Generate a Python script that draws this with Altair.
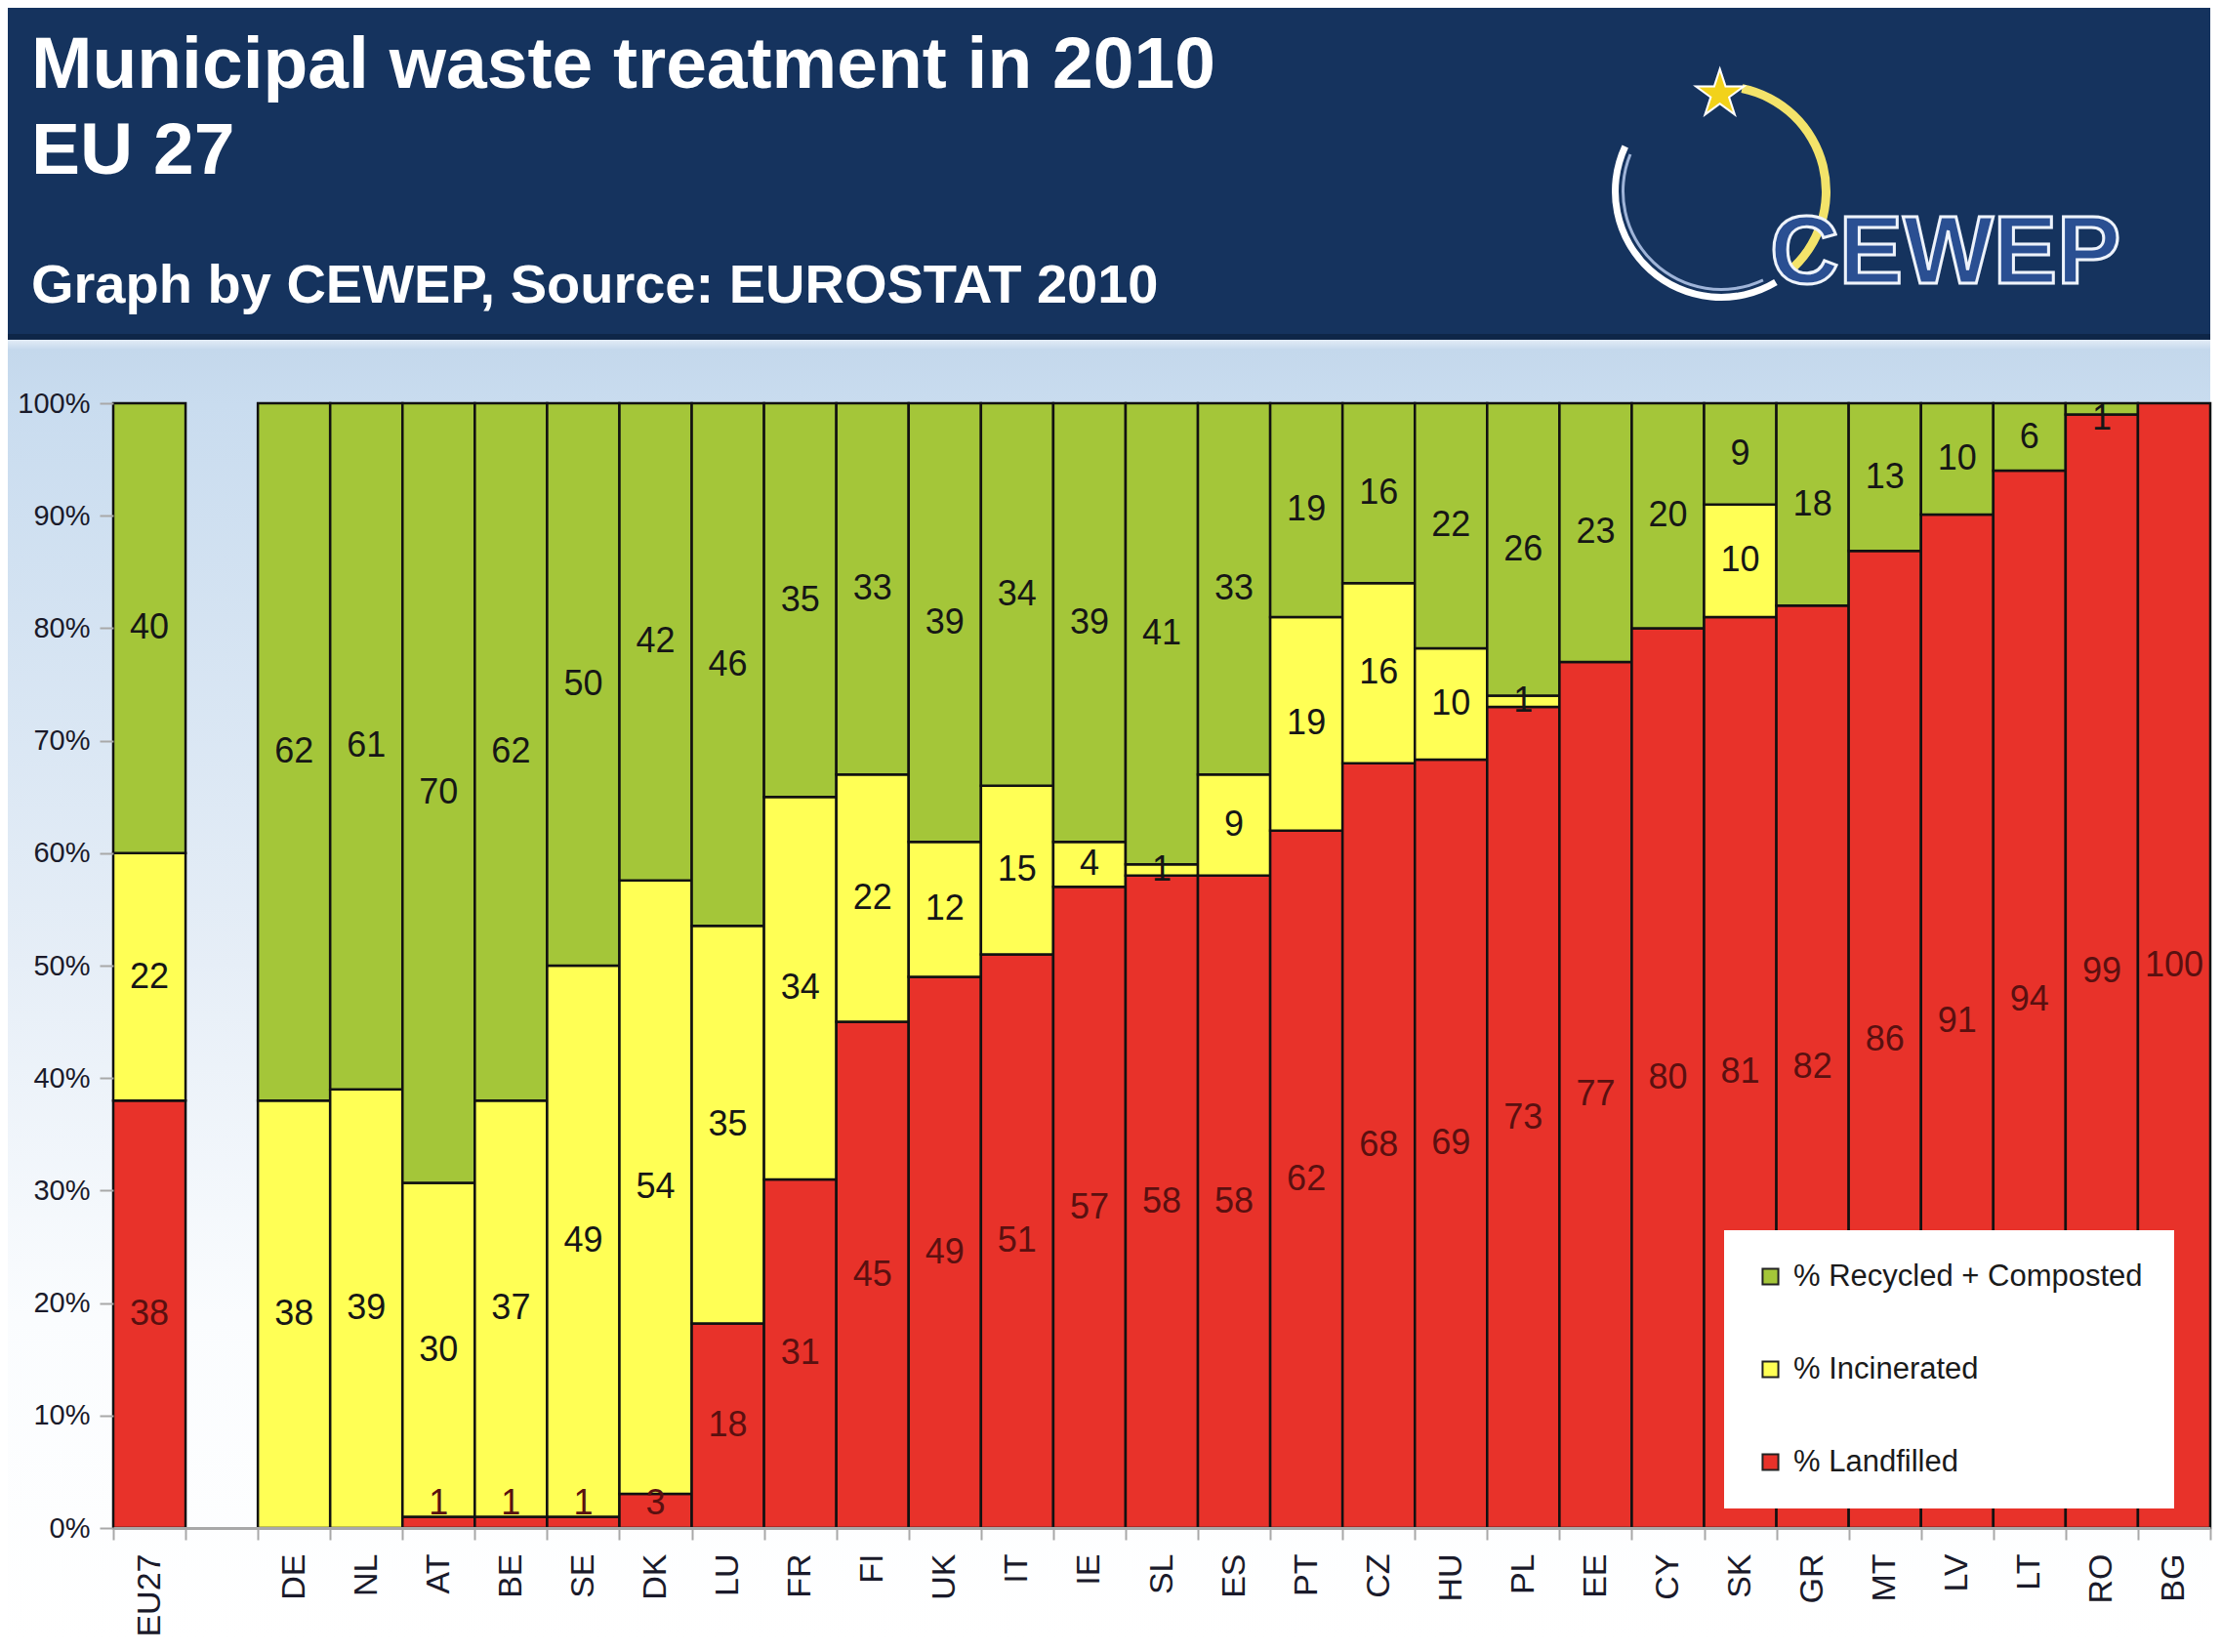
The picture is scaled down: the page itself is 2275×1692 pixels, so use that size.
import altair as alt
import pandas as pd

# ---------------- data ----------------
countries = ["EU27", "DE", "NL", "AT", "BE", "SE", "DK", "LU", "FR", "FI", "UK", "IT", "IE", "SL",
             "ES", "PT", "CZ", "HU", "PL", "EE", "CY", "SK", "GR", "MT", "LV", "LT", "RO", "BG"]
axis_order = ["EU27", " "] + countries[1:]   # " " is the empty slot after EU27
landfilled = [38, 0, 0, 1, 1, 1, 3, 18, 31, 45, 49, 51, 57, 58, 58, 62, 68, 69, 73, 77, 80, 81, 82, 86, 91, 94, 99, 100]
incinerated = [22, 38, 39, 30, 37, 49, 54, 35, 34, 22, 12, 15, 4, 1, 9, 19, 16, 10, 1, 0, 0, 10, 0, 0, 0, 0, 0, 0]
recycled = [40, 62, 61, 70, 62, 50, 42, 46, 35, 33, 39, 34, 39, 41, 33, 19, 16, 22, 26, 23, 20, 9, 18, 13, 10, 6, 1, 0]

series_names = ["% Recycled + Composted", "% Incinerated", "% Landfilled"]
series_colors = ["#a4c639", "#ffff55", "#e8322a"]
y_ticks = [0, 0.1, 0.2, 0.3, 0.4, 0.5, 0.6, 0.7, 0.8, 0.9, 1.0]

title1 = "Municipal waste treatment in 2010"
title2 = "EU 27"
subtitle = "Graph by CEWEP, Source: EUROSTAT 2010"
logo_text = "CEWEP"

rows = []
for i, c in enumerate(countries):
    rows.append({"country": c, "type": series_names[2], "value": landfilled[i], "ord": 0})
    rows.append({"country": c, "type": series_names[1], "value": incinerated[i], "ord": 1})
    rows.append({"country": c, "type": series_names[0], "value": recycled[i], "ord": 2})
df = pd.DataFrame(rows)

FONT = "Liberation Sans, Arial, Helvetica, sans-serif"
W = 2148
H = 1152
HEADER_H = 340
LEFT = 108
TOP = 65
BOTTOM = 115

one = pd.DataFrame({"a": [0]})

# ---------------- header ----------------
hdr_bg = alt.Chart(one).mark_rect(color="#15335e").encode(
    x=alt.value(-LEFT), x2=alt.value(W), y=alt.value(0), y2=alt.value(HEADER_H)
)
hdr_line = alt.Chart(one).mark_rect(color="#0e2648").encode(
    x=alt.value(-LEFT), x2=alt.value(W), y=alt.value(HEADER_H - 6), y2=alt.value(HEADER_H)
)
t1 = alt.Chart(one).mark_text(text=title1, font=FONT, fontSize=75, fontWeight="bold",
                              color="white", align="left", baseline="alphabetic").encode(
    x=alt.value(-84), y=alt.value(82))
t2 = alt.Chart(one).mark_text(text=title2, font=FONT, fontSize=75, fontWeight="bold",
                              color="white", align="left", baseline="alphabetic").encode(
    x=alt.value(-84), y=alt.value(170))
t3 = alt.Chart(one).mark_text(text=subtitle, font=FONT, fontSize=56, fontWeight="bold",
                              color="white", align="left", baseline="alphabetic").encode(
    x=alt.value(-84), y=alt.value(302))

arc_white = alt.Chart(one).mark_arc(color="white").encode(
    x=alt.value(1647), y=alt.value(188),
    theta=alt.value(2.6), theta2=alt.value(5.15),
    radius=alt.value(112), radius2=alt.value(105))
arc_white2 = alt.Chart(one).mark_arc(color="#9fb4d8").encode(
    x=alt.value(1647), y=alt.value(188),
    theta=alt.value(2.7), theta2=alt.value(5.1),
    radius=alt.value(102), radius2=alt.value(99))
arc_yellow = alt.Chart(one).mark_arc(color="#f3e36a").encode(
    x=alt.value(1647), y=alt.value(188),
    theta=alt.value(0.2), theta2=alt.value(2.45),
    radius=alt.value(112), radius2=alt.value(103))
star = alt.Chart(one).mark_text(text="★", fontSize=64, color="#f2d21a", stroke="white",
                                strokeWidth=2, align="center", baseline="middle").encode(
    x=alt.value(1645), y=alt.value(90))
logo = alt.Chart(one).mark_text(text=logo_text, font=FONT, fontSize=98, fontWeight="bold",
                                color="#2a4f92", stroke="#eef3fb", strokeWidth=3,
                                align="left", baseline="alphabetic").encode(
    x=alt.value(1697), y=alt.value(282))

header = alt.layer(hdr_bg, hdr_line, t1, t2, t3, arc_white, arc_white2, arc_yellow, star, logo).properties(
    width=W, height=HEADER_H)

# ---------------- main chart ----------------
grad = alt.Gradient(
    gradient="linear",
    stops=[
        alt.GradientStop(offset=0.0, color="#e3ecf6"),
        alt.GradientStop(offset=0.008, color="#c4d8ec"),
        alt.GradientStop(offset=0.05, color="#c9dcef"),
        alt.GradientStop(offset=0.48, color="#e6eef7"),
        alt.GradientStop(offset=0.75, color="#fafcfe"),
        alt.GradientStop(offset=1.0, color="#ffffff"),
    ],
    x1=0, x2=0, y1=0, y2=1,
)
bg = alt.Chart(one).mark_rect(fill=grad).encode(
    x=alt.value(-LEFT), x2=alt.value(W), y=alt.value(-TOP), y2=alt.value(H + BOTTOM))

base = alt.Chart(df).transform_filter("datum.value > 0").transform_stack(
    stack="value", groupby=["country"], as_=["v0", "v1"], offset="normalize",
    sort=[alt.SortField("ord", order="ascending")],
).transform_calculate(
    mid="max(min((datum.v0 + datum.v1) / 2, 0.986), 0.022)"
)

xscale = alt.Scale(domain=axis_order, paddingInner=0, paddingOuter=0)
yscale = alt.Scale(domain=[0, 1])

bars = base.mark_bar(stroke="#111111", strokeWidth=2.5, opacity=1).encode(
    x=alt.X("country:N", scale=xscale, sort=axis_order,
            axis=alt.Axis(title=None, labelAngle=-90, labelFontSize=34, labelFont=FONT,
                          labelColor="#1a1a2a", labelPadding=14, tickBand="extent",
                          tickSize=12, tickColor="#a8a8a8", tickWidth=2,
                          domainColor="#a8a8a8", domainWidth=3, zindex=1)),
    y=alt.Y("v0:Q", scale=yscale,
            axis=alt.Axis(title=None, format="%", values=y_ticks, labelFontSize=29,
                          labelFont=FONT, labelColor="#1a1a2a", tickColor="#a8a8a8",
                          tickSize=14, tickWidth=2, domain=False, grid=False, labelPadding=10,
                          zindex=1)),
    y2="v1:Q",
    color=alt.Color("type:N", scale=alt.Scale(domain=series_names, range=series_colors),
                    legend=alt.Legend(title=None, orient="none", legendX=1650,
                                      legendY=HEADER_H + TOP + 847,
                                      fillColor="white", padding=32, rowPadding=63,
                                      labelFontSize=31, labelFont=FONT, labelColor="#1a1a1a",
                                      labelOffset=8, labelLimit=700, symbolType="square",
                                      symbolSize=260, symbolStrokeColor="#222222",
                                      symbolStrokeWidth=2, symbolOpacity=1)),
)

labels = base.mark_text(font=FONT, fontSize=36, align="center", baseline="middle").encode(
    x=alt.X("country:N", scale=xscale, sort=axis_order),
    y=alt.Y("mid:Q", scale=yscale),
    text=alt.Text("value:Q"),
    color=alt.condition(alt.datum.type == series_names[2], alt.value("#5a1010"), alt.value("#161616")),
)

main = alt.layer(bg, bars, labels).properties(width=W, height=H)

chart = alt.vconcat(header, main, spacing=0).properties(padding=0).configure_view(
    strokeWidth=0).configure_concat(spacing=0)

chart.save("out.html", embed_options={"renderer": "svg", "actions": False})
